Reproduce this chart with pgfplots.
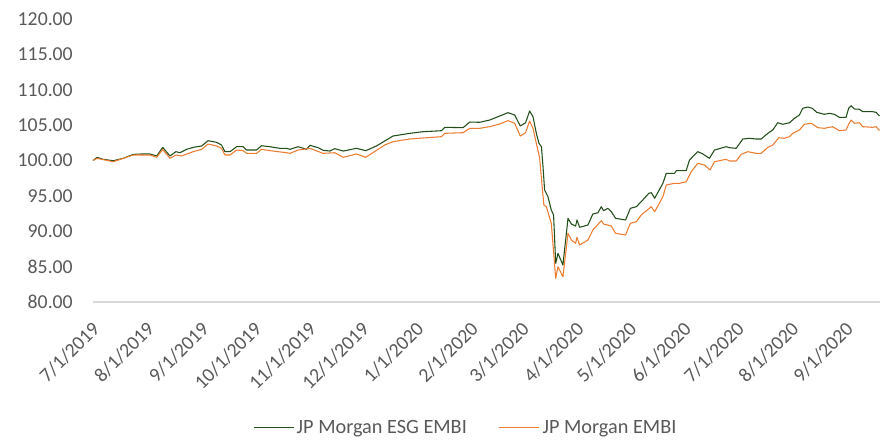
\documentclass[border=0pt]{standalone}
\usepackage{fontspec}
\setmainfont{Carlito}
\usepackage{pgfplots}
\pgfplotsset{compat=1.18}
\definecolor{esggreen}{RGB}{34,78,26}
\definecolor{embiorange}{RGB}{237,125,49}
\definecolor{txtgray}{RGB}{89,89,89}
\definecolor{axgray}{RGB}{217,217,217}
\begin{document}
\begin{tikzpicture}
\useasboundingbox (-69.75pt,-103.5pt) rectangle (591pt,226.5pt);
\begin{axis}[
  scale only axis,
  width=590.25pt, height=212.25pt,
  xmin=0, xmax=447, ymin=80, ymax=120,
  axis lines*=left,
  x axis line style={draw=axgray, line width=0.9pt},
  y axis line style={draw=none},
  major tick length=0pt,
  ytick={80,85,90,95,100,105,110,115,120},
  yticklabels={80.00,85.00,90.00,95.00,100.00,105.00,110.00,115.00,120.00},
  xtick={0,31,62,92,123,153,184,215,244,275,305,336,366,397,428},
  xticklabels={7/1/2019,8/1/2019,9/1/2019,10/1/2019,11/1/2019,12/1/2019,1/1/2020,2/1/2020,3/1/2020,4/1/2020,5/1/2020,6/1/2020,7/1/2020,8/1/2020,9/1/2020},
  tick label style={font=\fontsize{14.8}{17}\selectfont, text=txtgray},
  yticklabel style={anchor=east, inner sep=0pt, xshift=-15pt},
  xticklabel style={xshift=-1.5pt, yshift=-13.5pt, rotate=45, anchor=north east, inner sep=0pt},
  legend style={at={(0.474,-0.445)}, anchor=center, draw=none, fill=none,
    legend columns=2, font=\fontsize{15.2}{17}\selectfont, text=txtgray,
    /tikz/every even column/.append style={column sep=22pt},
    inner sep=0pt},
  legend image code/.code={\draw[#1] (0pt,0pt) -- (30pt,0pt);},
  every axis plot/.append style={line width=0.8pt, line join=round},
  clip=false,
]
\addplot[esggreen] coordinates {
(0,100.0)(2.4,100.45)(5.8,100.17)(11.5,99.97)(17.2,100.31)(22.9,100.87)(27.6,100.92)(32.3,100.92)(36.2,100.64)(39.6,101.86)(43.7,100.64)(47.1,101.25)(49.4,101.1)(53.2,101.58)(56.9,101.86)(61.7,102.05)(65.4,102.80)(70.2,102.57)(73.0,102.19)(74.9,101.25)(77.8,101.25)(81.6,101.95)(85.3,101.95)(87.2,101.48)(92.9,101.48)(95.7,102.09)(100.5,101.95)(106.1,101.72)(109.9,101.72)(111.8,101.58)(116.5,101.95)(121.3,101.58)(123.2,102.15)(127.9,101.81)(130.7,101.44)(134.5,101.34)(137.3,101.67)(142.1,101.34)(149.7,101.72)(154.9,101.39)(161.0,102.05)(165.7,102.76)(170.4,103.46)(179.9,103.84)(187.5,104.07)(197.9,104.21)(199.8,104.69)(210.2,104.64)(214.0,105.44)(219.6,105.4)(225.3,105.72)(229.1,106.1)(235.7,106.76)(239.5,106.43)(242.7,104.88)(245.7,105.34)(248.0,107.0)(249.9,106.19)(251.8,103.84)(253.3,102.43)(254.7,101.95)(255.6,99.13)(256.5,95.83)(258.4,94.89)(260.3,93.0)(261.6,92.3)(262.8,85.47)(264.1,86.88)(266.9,85.23)(269.8,91.83)(271.7,91.02)(274.1,90.74)(274.9,91.59)(276.4,90.56)(281.1,90.88)(283.9,92.44)(286.8,92.62)(288.7,93.47)(290.0,92.9)(292.4,93.24)(294.4,92.76)(296.8,91.83)(302.5,91.59)(305.2,93.24)(308.6,93.47)(311.4,94.18)(315.7,95.36)(317.1,95.45)(319.0,94.66)(323.7,96.78)(325.6,98.19)(330.3,98.19)(331.3,98.56)(336.9,98.56)(338.8,100.07)(343.5,101.25)(346.4,100.92)(350.1,100.31)(353.0,101.48)(359.6,101.95)(361.5,101.81)(365.3,101.72)(369.1,103.04)(372.9,103.14)(376.3,103.04)(379.5,103.04)(383.3,103.84)(386.1,104.31)(388.9,105.34)(391.8,105.12)(395.6,105.34)(398.4,105.96)(401.2,106.43)(403.1,107.38)(406.0,107.56)(408.5,107.38)(411.1,106.81)(415.4,106.53)(418.3,106.67)(421.1,106.53)(423.9,106.10)(427.7,106.10)(429.2,107.38)(430.6,107.75)(432.5,107.28)(435.3,107.24)(437.2,106.90)(442.8,106.90)(444.8,106.81)(446.7,106.29)
};
\addlegendentry{JP Morgan ESG EMBI}
\addplot[embiorange] coordinates {
(0,100.0)(2.4,100.3)(11.5,99.83)(22.9,100.78)(32.3,100.78)(36.2,100.45)(39.6,101.58)(43.7,100.31)(47.1,100.78)(50.3,100.64)(56.9,101.25)(61.7,101.58)(65.4,102.33)(70.2,102.05)(73.0,101.72)(74.9,100.78)(77.8,100.78)(81.6,101.48)(85.3,101.39)(87.2,101.01)(92.9,101.01)(95.7,101.58)(100.5,101.39)(109.9,101.1)(111.8,101.01)(116.5,101.48)(123.2,101.72)(130.7,101.01)(137.3,101.1)(142.1,100.45)(149.7,100.92)(154.9,100.45)(165.7,102.19)(170.4,102.66)(179.9,103.04)(197.9,103.37)(199.8,103.84)(210.2,103.93)(214.0,104.55)(219.6,104.55)(225.3,104.78)(231.0,105.16)(235.7,105.63)(239.5,105.26)(242.7,103.46)(245.7,103.93)(248.0,105.58)(249.9,104.55)(251.8,102.43)(253.7,100.31)(255.2,96.07)(256.1,93.71)(257.5,93.47)(260.3,91.12)(262.8,83.35)(264.1,84.99)(266.9,83.58)(269.8,89.71)(271.7,88.76)(274.1,88.3)(274.9,89.14)(276.4,88.06)(281.1,88.76)(283.9,90.18)(288.7,91.49)(290.0,91.02)(294.4,90.74)(296.8,89.71)(302.5,89.47)(305.2,91.12)(308.6,91.35)(311.4,92.3)(317.1,93.47)(319.0,92.76)(323.7,94.89)(325.6,96.54)(330.3,96.78)(333.2,96.78)(336.9,97.0)(339.8,98.42)(343.5,99.6)(347.3,99.36)(350.5,98.66)(353.0,99.83)(359.6,100.17)(361.5,99.93)(365.3,99.93)(368.2,100.87)(371.9,101.25)(376.7,101.01)(379.5,101.01)(383.3,101.86)(386.1,102.19)(389.5,103.22)(392.7,103.14)(395.6,103.37)(397.4,103.84)(401.2,104.31)(404.1,105.12)(407.9,105.26)(411.7,104.64)(415.4,104.55)(420.1,104.78)(423.9,104.21)(427.7,104.31)(429.2,105.12)(430.6,105.72)(432.5,105.26)(435.3,105.34)(437.2,104.78)(442.8,104.69)(444.8,104.78)(446.7,104.21)
};
\addlegendentry{JP Morgan EMBI}
\end{axis}
\end{tikzpicture}
\end{document}
